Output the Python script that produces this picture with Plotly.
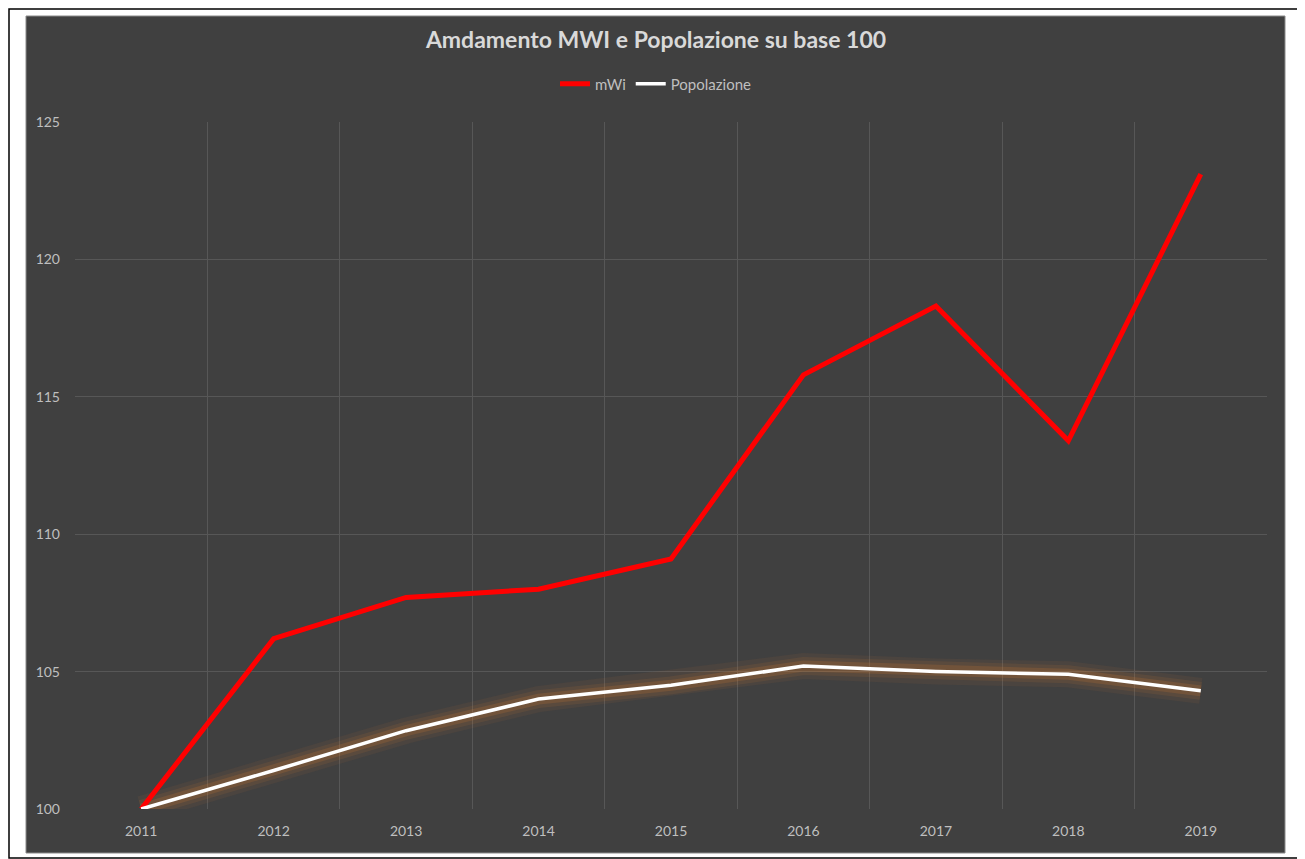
import plotly.graph_objects as go

# ---- data ----
years = ["2011", "2012", "2013", "2014", "2015", "2016", "2017", "2018", "2019"]
mwi = [100.0, 106.2, 107.7, 108.0, 109.1, 115.8, 118.3, 113.4, 123.1]
popolazione = [100.0, 101.4, 102.85, 104.0, 104.5, 105.2, 105.0, 104.9, 104.3]
y_ticks = [100, 105, 110, 115, 120, 125]

OFF = 8  # page body margin
W, H = 1305 - OFF, 859 - OFF
L, R, T, B = 75 - OFF, 1267 - OFF, 122 - OFF, 809 - OFF  # plot area pixel edges

def px_x(p):
    return (p - OFF - L) / (R - L)

def px_y(p):
    return (B - (p - OFF)) / (B - T)

BG = "#404040"
GRID = "#575757"
FONT = "Lato, 'Open Sans', sans-serif"

fig = go.Figure()

# soft glow under the population line
for w, a in [(26, 0.08), (18, 0.12), (11, 0.20)]:
    fig.add_trace(go.Scatter(x=years, y=popolazione, mode="lines",
                             line=dict(color=f"rgba(205,120,50,{a})", width=w),
                             showlegend=False, hoverinfo="skip"))

fig.add_trace(go.Scatter(x=years, y=mwi, mode="lines", name="mWi",
                         line=dict(color="#ff0000", width=5)))
fig.add_trace(go.Scatter(x=years, y=popolazione, mode="lines", name="Popolazione",
                         line=dict(color="#ffffff", width=3.5)))

fig.update_layout(
    width=W, height=H,
    margin=dict(l=L, r=W - R, t=T, b=H - B, autoexpand=False),
    paper_bgcolor="white",
    plot_bgcolor=BG,
    font=dict(family=FONT, color="#bfbfbf", size=14),
    title=dict(text="<b>Amdamento MWI e Popolazione su base 100</b>",
               x=(656 - OFF) / W, xanchor="center", xref="container",
               y=1 - (40 - OFF) / H, yanchor="middle", yref="container",
               font=dict(family=FONT, size=23, color="#d9d9d9")),
    legend=dict(orientation="h", x=px_x(656), xanchor="center",
                y=px_y(84), yanchor="middle",
                font=dict(family=FONT, size=15, color="#bfbfbf"),
                bgcolor="rgba(0,0,0,0)", itemwidth=30, traceorder="normal"),
    showlegend=True,
    shapes=[
        dict(type="rect", xref="paper", yref="paper", layer="below",
             x0=px_x(26), x1=px_x(1285), y0=px_y(853), y1=px_y(16),
             fillcolor=BG, line=dict(color="#8a8a8a", width=1)),
        dict(type="rect", xref="paper", yref="paper", layer="below",
             x0=px_x(OFF + 1), x1=px_x(1302.5), y0=px_y(858), y1=px_y(OFF + 1),
             fillcolor="rgba(0,0,0,0)", line=dict(color="black", width=1.5)),
    ],
)

fig.update_xaxes(type="category", range=[-0.5, len(years) - 0.5],
                 tickson="boundaries", showgrid=True,
                 gridcolor=GRID, gridwidth=1, ticks="", showline=False,
                 zeroline=False, ticklabelstandoff=12,
                 tickfont=dict(size=14, color="#bfbfbf"))
fig.update_yaxes(range=[100, 125], tickvals=y_ticks, showgrid=True,
                 gridcolor=GRID, gridwidth=1, zeroline=False, showline=False,
                 ticks="", ticklabelstandoff=14,
                 tickfont=dict(size=14, color="#bfbfbf"))

fig.write_html("out.html")
